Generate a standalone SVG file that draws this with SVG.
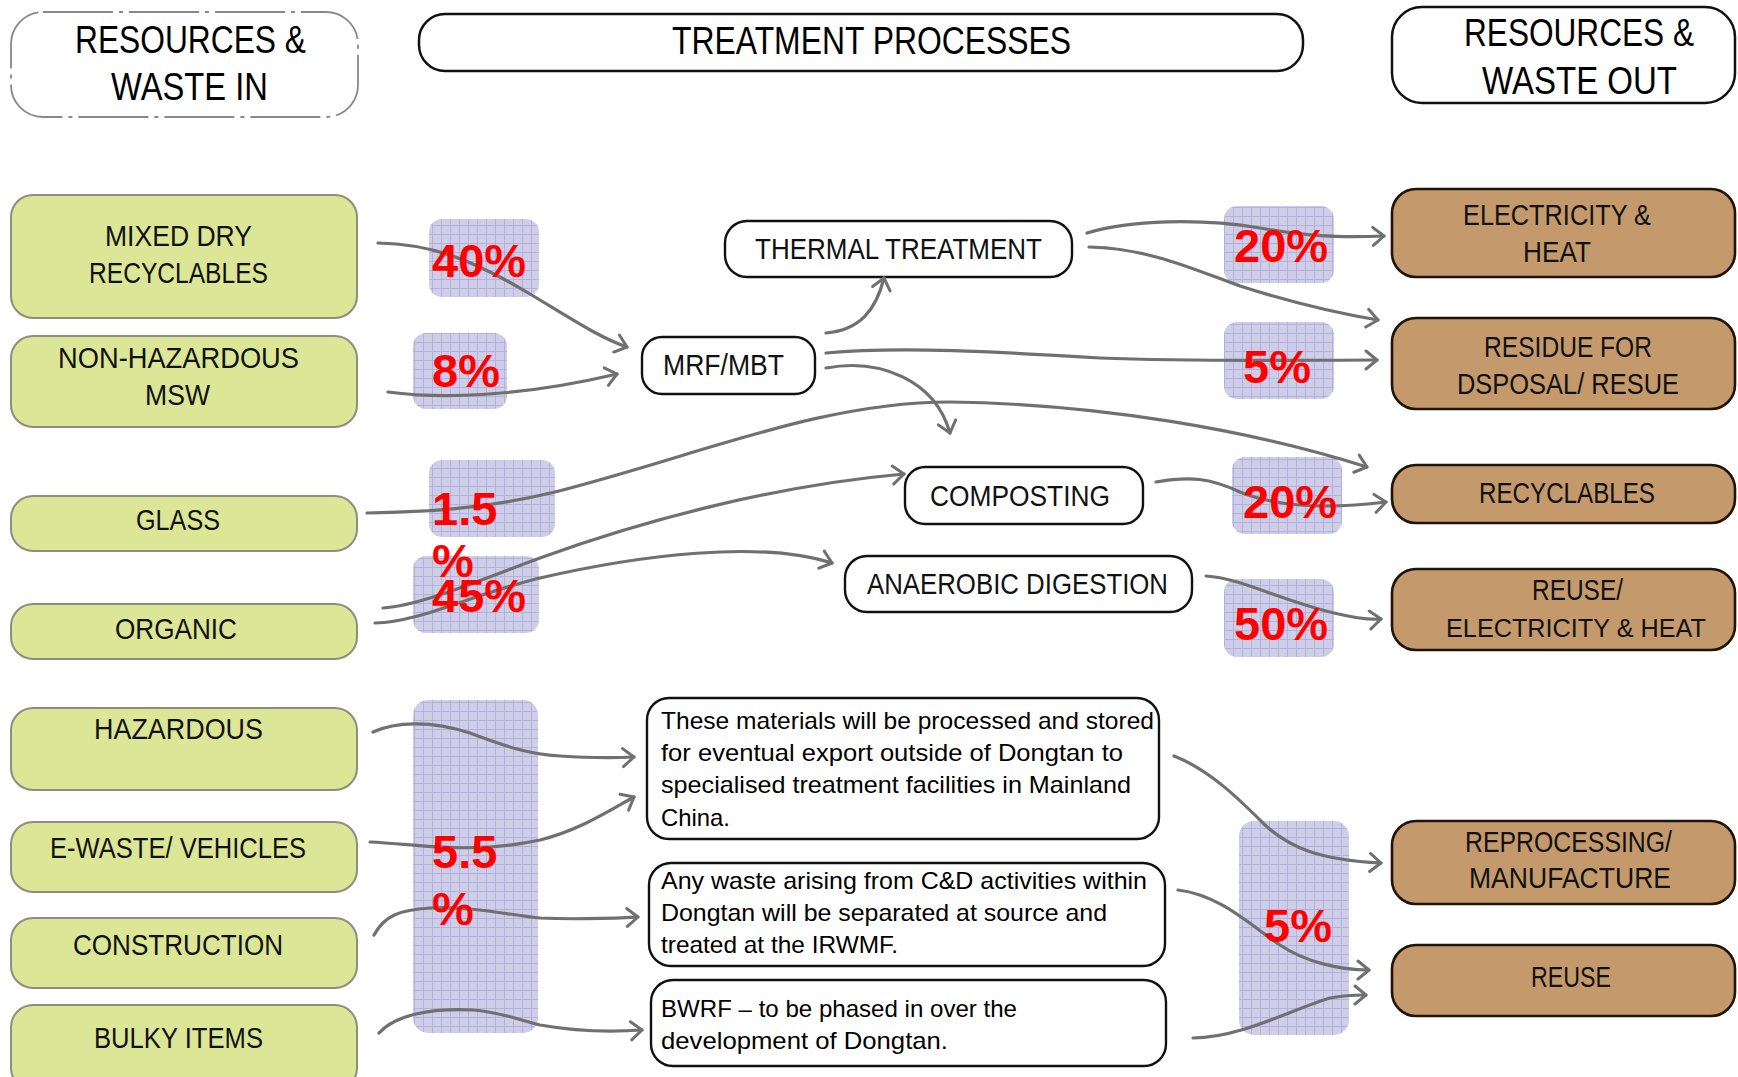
<svg xmlns="http://www.w3.org/2000/svg" width="1738" height="1077" viewBox="0 0 1738 1077">
<defs>
<pattern id="grid" width="9" height="9" patternUnits="userSpaceOnUse">
<rect width="9" height="9" fill="#cecee9"/>
<path d="M0,0.5 H9 M0.5,0 V9" stroke="#b2b2dc" stroke-width="1"/>
</pattern>
<marker id="arr" markerUnits="userSpaceOnUse" markerWidth="22" markerHeight="22" refX="15" refY="11" orient="auto" viewBox="0 0 22 22">
<path d="M4,2 L15,11 L4,20" fill="none" stroke="#707070" stroke-width="3" stroke-linecap="round" stroke-linejoin="round"/>
</marker>
</defs>
<style>
.hdr{fill:#fff;stroke:#111;stroke-width:2.5}
.hdrd{fill:#fff;stroke:#888;stroke-width:1.8;stroke-dasharray:70 6 4 6}
.ht{font-family:"Liberation Sans",sans-serif;font-size:38px;fill:#000;text-anchor:start}
.g{fill:#dbe696;stroke:#8e8e7e;stroke-width:2}
.b{fill:#c49a6c;stroke:#1e1409;stroke-width:2.6}
.p{fill:#fff;stroke:#111;stroke-width:2.4}
.nt{font-family:"Liberation Sans",sans-serif;font-size:29px;fill:#111}
.pt{font-family:"Liberation Sans",sans-serif;font-size:24px;fill:#000}
.pc{fill:url(#grid)}
.pct{font-family:"Liberation Sans",sans-serif;font-weight:bold;font-size:47px;fill:#ff0000}
.c{fill:none;stroke:#707070;stroke-width:3.2;stroke-linecap:round}
.ca{fill:none;stroke:#707070;stroke-width:3.2;stroke-linecap:round;marker-end:url(#arr)}
</style>
<rect width="1738" height="1077" fill="#fff"/>

<g id="hdr-in"><rect class="hdrd" x="11" y="12" width="347" height="105" rx="32"/>
<text class="ht" x="75" y="53" textLength="231" lengthAdjust="spacingAndGlyphs">RESOURCES &amp;</text>
<text class="ht" x="111" y="100" textLength="157" lengthAdjust="spacingAndGlyphs">WASTE IN</text></g>
<g id="hdr-proc"><rect class="hdr" x="419" y="14" width="884" height="57" rx="26"/>
<text class="ht" x="672" y="54" textLength="399" lengthAdjust="spacingAndGlyphs">TREATMENT PROCESSES</text></g>
<g id="hdr-out"><rect class="hdr" x="1392" y="7" width="343" height="96" rx="30"/>
<text class="ht" x="1464" y="46" textLength="230" lengthAdjust="spacingAndGlyphs">RESOURCES &amp;</text>
<text class="ht" x="1482" y="94" textLength="195" lengthAdjust="spacingAndGlyphs">WASTE OUT</text></g>

<g id="in-mixed"><rect class="g" x="11" y="195" width="346" height="123" rx="22"/>
<text class="nt" x="105" y="246" textLength="147" lengthAdjust="spacingAndGlyphs">MIXED DRY</text>
<text class="nt" x="89" y="283" textLength="179" lengthAdjust="spacingAndGlyphs">RECYCLABLES</text></g>
<g id="in-nonhaz"><rect class="g" x="11" y="336" width="346" height="91" rx="22"/>
<text class="nt" x="58" y="368" textLength="241" lengthAdjust="spacingAndGlyphs">NON-HAZARDOUS</text>
<text class="nt" x="145" y="405" textLength="65" lengthAdjust="spacingAndGlyphs">MSW</text></g>
<g id="in-glass"><rect class="g" x="11" y="496" width="346" height="55" rx="22"/>
<text class="nt" x="136" y="530" textLength="84" lengthAdjust="spacingAndGlyphs">GLASS</text></g>
<g id="in-organic"><rect class="g" x="11" y="604" width="346" height="55" rx="22"/>
<text class="nt" x="115" y="639" textLength="122" lengthAdjust="spacingAndGlyphs">ORGANIC</text></g>
<g id="in-haz"><rect class="g" x="11" y="708" width="346" height="82" rx="22"/>
<text class="nt" x="94" y="739" textLength="169" lengthAdjust="spacingAndGlyphs">HAZARDOUS</text></g>
<g id="in-ewaste"><rect class="g" x="11" y="822" width="346" height="70" rx="22"/>
<text class="nt" x="50" y="858" textLength="256" lengthAdjust="spacingAndGlyphs">E-WASTE/ VEHICLES</text></g>
<g id="in-constr"><rect class="g" x="11" y="918" width="346" height="70" rx="22"/>
<text class="nt" x="73" y="955" textLength="210" lengthAdjust="spacingAndGlyphs">CONSTRUCTION</text></g>
<g id="in-bulky"><rect class="g" x="11" y="1005" width="346" height="85" rx="22"/>
<text class="nt" x="94" y="1048" textLength="169" lengthAdjust="spacingAndGlyphs">BULKY ITEMS</text></g>

<g id="proc-thermal"><rect class="p" x="725" y="221" width="347" height="56" rx="22"/>
<text class="nt" x="755" y="259" textLength="287" lengthAdjust="spacingAndGlyphs">THERMAL TREATMENT</text></g>
<g id="proc-mrf"><rect class="p" x="642" y="337" width="173" height="57" rx="20"/>
<text class="nt" x="663" y="375" textLength="121" lengthAdjust="spacingAndGlyphs">MRF/MBT</text></g>
<g id="proc-compost"><rect class="p" x="905" y="467" width="238" height="57" rx="20"/>
<text class="nt" x="930" y="506" textLength="180" lengthAdjust="spacingAndGlyphs">COMPOSTING</text></g>
<g id="proc-ad"><rect class="p" x="845" y="556" width="347" height="56" rx="22"/>
<text class="nt" x="867" y="594" textLength="301" lengthAdjust="spacingAndGlyphs">ANAEROBIC DIGESTION</text></g>
<g id="proc-haz"><rect class="p" x="647" y="698" width="512" height="141" rx="22"/>
<text class="pt" x="661" y="729" textLength="493" lengthAdjust="spacingAndGlyphs">These materials will be processed and stored</text>
<text class="pt" x="661" y="761" textLength="462" lengthAdjust="spacingAndGlyphs">for eventual export outside of Dongtan to</text>
<text class="pt" x="661" y="793" textLength="470" lengthAdjust="spacingAndGlyphs">specialised treatment facilities in Mainland</text>
<text class="pt" x="661" y="826" textLength="69" lengthAdjust="spacingAndGlyphs">China.</text></g>
<g id="proc-cd"><rect class="p" x="649" y="863" width="516" height="103" rx="22"/>
<text class="pt" x="661" y="889" textLength="486" lengthAdjust="spacingAndGlyphs">Any waste arising from C&amp;D activities within</text>
<text class="pt" x="661" y="921" textLength="446" lengthAdjust="spacingAndGlyphs">Dongtan will be separated at source and</text>
<text class="pt" x="661" y="953" textLength="237" lengthAdjust="spacingAndGlyphs">treated at the IRWMF.</text></g>
<g id="proc-bwrf"><rect class="p" x="651" y="980" width="515" height="86" rx="22"/>
<text class="pt" x="661" y="1017" textLength="356" lengthAdjust="spacingAndGlyphs">BWRF – to be phased in over the</text>
<text class="pt" x="661" y="1049" textLength="287" lengthAdjust="spacingAndGlyphs">development of Dongtan.</text></g>

<g id="out-elec"><rect class="b" x="1392" y="189" width="343" height="88" rx="24"/>
<text class="nt" x="1463" y="225" textLength="188" lengthAdjust="spacingAndGlyphs">ELECTRICITY &amp;</text>
<text class="nt" x="1523" y="262" textLength="68" lengthAdjust="spacingAndGlyphs">HEAT</text></g>
<g id="out-residue"><rect class="b" x="1392" y="318" width="343" height="91" rx="24"/>
<text class="nt" x="1484" y="357" textLength="168" lengthAdjust="spacingAndGlyphs">RESIDUE FOR</text>
<text class="nt" x="1457" y="394" textLength="222" lengthAdjust="spacingAndGlyphs">DSPOSAL/ RESUE</text></g>
<g id="out-recyc"><rect class="b" x="1392" y="465" width="343" height="58" rx="24"/>
<text class="nt" x="1479" y="503" textLength="176" lengthAdjust="spacingAndGlyphs">RECYCLABLES</text></g>
<g id="out-reuse-elec"><rect class="b" x="1392" y="569" width="343" height="81" rx="24"/>
<text class="nt" x="1532" y="600" textLength="91" lengthAdjust="spacingAndGlyphs">REUSE/</text>
<text class="nt" x="1446" y="637" font-size="26" textLength="260" lengthAdjust="spacingAndGlyphs" style="font-size:26px">ELECTRICITY &amp; HEAT</text></g>
<g id="out-reproc"><rect class="b" x="1392" y="821" width="343" height="83" rx="24"/>
<text class="nt" x="1465" y="852" textLength="207" lengthAdjust="spacingAndGlyphs">REPROCESSING/</text>
<text class="nt" x="1469" y="888" textLength="202" lengthAdjust="spacingAndGlyphs">MANUFACTURE</text></g>
<g id="out-reuse"><rect class="b" x="1392" y="945" width="343" height="71" rx="24"/>
<text class="nt" x="1531" y="987" textLength="80" lengthAdjust="spacingAndGlyphs">REUSE</text></g>

<g id="pct-boxes">
<rect class="pc" x="429" y="219" width="110" height="78" rx="13"/>
<rect class="pc" x="413" y="333" width="94" height="76" rx="13"/>
<rect class="pc" x="429" y="460" width="126" height="77" rx="13"/>
<rect class="pc" x="413" y="556" width="126" height="77" rx="13"/>
<rect class="pc" x="413" y="700" width="125" height="333" rx="15"/>
<rect class="pc" x="1224" y="206" width="110" height="77" rx="13"/>
<rect class="pc" x="1224" y="322" width="110" height="77" rx="13"/>
<rect class="pc" x="1232" y="457" width="110" height="77" rx="13"/>
<rect class="pc" x="1224" y="579" width="110" height="78" rx="13"/>
<rect class="pc" x="1239" y="821" width="110" height="214" rx="15"/>
</g>

<g id="connectors">
<path class="ca" d="M378,243 C430,244 470,258 530,294 C570,318 600,338 627,347"/>
<path class="ca" d="M388,392 C440,399 520,397 617,374"/>
<path class="ca" d="M826,333 C860,330 876,310 884,278"/>
<path class="ca" d="M826,353 C900,346 1000,352 1100,358 C1200,362 1300,360 1377,360"/>
<path class="ca" d="M826,368 C880,358 935,380 950,433"/>
<path class="ca" d="M1087,233 C1130,220 1200,218 1260,228 C1300,235 1330,238 1384,236"/>
<path class="ca" d="M1089,247 C1150,248 1200,272 1240,286 C1290,302 1330,312 1378,320"/>
<path class="ca" d="M367,513 C420,512 480,510 555,492 C700,455 820,402 950,402 C1100,404 1250,430 1367,467"/>
<path class="ca" d="M383,608 C420,606 480,580 540,558 C650,518 780,485 904,474"/>
<path class="ca" d="M375,623 C420,622 470,595 540,578 C640,555 760,540 832,563"/>
<path class="ca" d="M1156,482 C1190,476 1210,478 1240,492 C1280,508 1330,509 1386,502"/>
<path class="ca" d="M1206,576 C1240,578 1280,600 1334,613 C1355,618 1370,620 1381,619"/>
<path class="ca" d="M373,732 C395,722 430,720 470,733 C500,744 525,754 560,756 C590,758 615,758 634,757"/>
<path class="ca" d="M370,842 C420,844 470,855 540,840 C580,830 610,810 634,797"/>
<path class="ca" d="M374,935 C385,915 400,910 430,908 C470,906 510,915 540,918 C580,920 615,918 638,917"/>
<path class="ca" d="M379,1033 C395,1015 430,1008 473,1010 C500,1012 520,1020 540,1025 C580,1032 615,1032 642,1030"/>
<path class="ca" d="M1174,756 C1210,770 1240,800 1265,825 C1290,848 1320,860 1381,863"/>
<path class="ca" d="M1178,890 C1220,895 1250,925 1280,945 C1305,962 1340,970 1369,970"/>
<path class="ca" d="M1193,1038 C1240,1038 1290,1010 1330,998 C1345,995 1355,995 1366,995"/>
</g>

<g id="pct-labels">
<text class="pct" x="432" y="277">40%</text>
<text class="pct" x="432" y="387">8%</text>
<text class="pct" x="432" y="525">1.5</text>
<text class="pct" x="432" y="577">%</text>
<text class="pct" x="432" y="612">45%</text>
<text class="pct" x="432" y="868">5.5</text>
<text class="pct" x="432" y="925">%</text>
<text class="pct" x="1234" y="262">20%</text>
<text class="pct" x="1243" y="383">5%</text>
<text class="pct" x="1243" y="518">20%</text>
<text class="pct" x="1234" y="640">50%</text>
<text class="pct" x="1264" y="942">5%</text>
</g>
</svg>
